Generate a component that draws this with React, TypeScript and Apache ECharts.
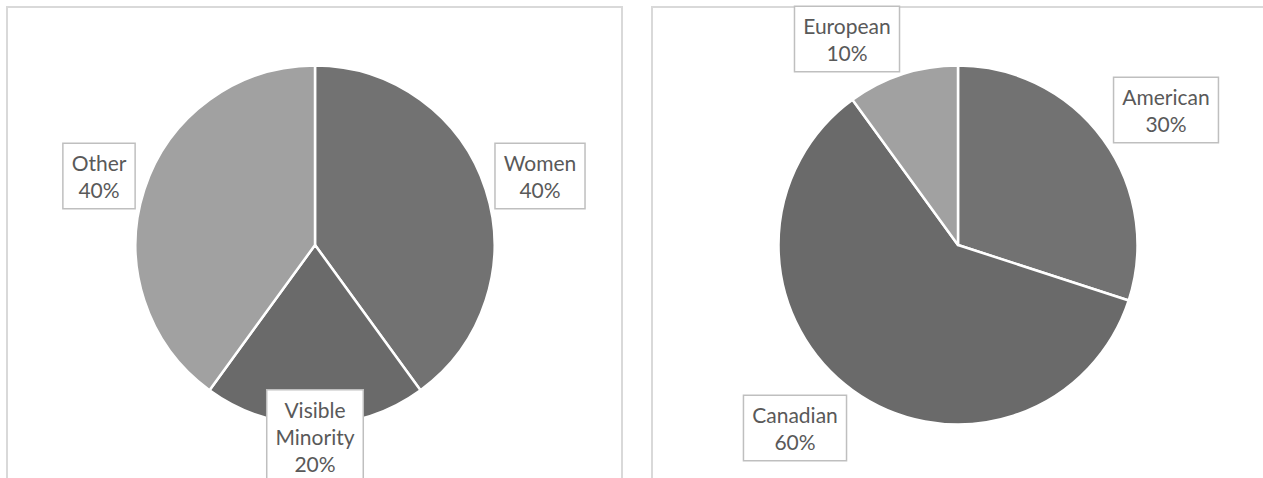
import React, { useEffect, useRef } from "react";
import * as echarts from "echarts";

// ---- data ----
const leftCategories = ["Women", "Visible Minority", "Other"];
const leftValues = [40, 20, 40];
const rightCategories = ["American", "Canadian", "European"];
const rightValues = [30, 60, 10];

// ---- styling / layout (kept apart from data) ----
const sliceColors = ["#727272", "#6a6a6a", "#a1a1a1"];
const LEFT_CENTER = [315, 245];
const RIGHT_CENTER = [958, 245];
const PIE_RADIUS = 179.5;
const LEFT_LABEL_ANCHORS = [
  [540, 176],
  [315, 436],
  [99, 176],
];
const RIGHT_LABEL_ANCHORS = [
  [1166, 110],
  [795, 428],
  [847, 39],
];

const FONT = "Lato, 'Open Sans', sans-serif";

function makeSeries(
  names: string[],
  values: number[],
  center: number[],
  anchors: number[][]
) {
  return {
    type: "pie",
    center,
    radius: PIE_RADIUS,
    startAngle: 90,
    clockwise: true,
    silent: true,
    avoidLabelOverlap: false,
    percentPrecision: 0,
    data: names.map((n, i) => ({
      name: n,
      value: values[i],
      itemStyle: { color: sliceColors[i] },
    })),
    itemStyle: { borderColor: "#ffffff", borderWidth: 2.5 },
    label: {
      show: true,
      position: "outside",
      formatter: (p: any) =>
        String(p.name).split(" ").join("\n") + "\n" + Math.round(p.percent) + "%",
      color: "#595959",
      fontFamily: FONT,
      fontSize: 21,
      lineHeight: 27,
      backgroundColor: "#ffffff",
      borderColor: "#bfbfbf",
      borderWidth: 1.5,
      padding: [5, 8, 5, 8],
      align: "center",
    },
    labelLine: { show: false },
    labelLayout: (p: any) => ({
      x: anchors[p.dataIndex][0],
      y: anchors[p.dataIndex][1],
      align: "center",
      verticalAlign: "middle",
      hideOverlap: false,
    }),
    emphasis: { disabled: true },
  };
}

export default function App() {
  const ref = useRef<HTMLDivElement>(null);
  useEffect(() => {
    if (!ref.current) return;
    const chart = echarts.init(ref.current, undefined, { renderer: "svg" });
    chart.setOption({
      animation: false,
      backgroundColor: "#ffffff",
      graphic: [
        {
          type: "rect",
          z: 0,
          shape: { x: 7, y: 7, width: 615, height: 520 },
          style: { fill: "none", stroke: "#d9d9d9", lineWidth: 2 },
          silent: true,
        },
        {
          type: "rect",
          z: 0,
          shape: { x: 652, y: 7, width: 640, height: 520 },
          style: { fill: "none", stroke: "#d9d9d9", lineWidth: 2 },
          silent: true,
        },
      ],
      series: [
        makeSeries(leftCategories, leftValues, LEFT_CENTER, LEFT_LABEL_ANCHORS),
        makeSeries(rightCategories, rightValues, RIGHT_CENTER, RIGHT_LABEL_ANCHORS),
      ],
    });
    return () => chart.dispose();
  }, []);
  return (
    <div
      ref={ref}
      style={{ position: "absolute", left: 0, top: 0, width: 1263, height: 478 }}
    />
  );
}
